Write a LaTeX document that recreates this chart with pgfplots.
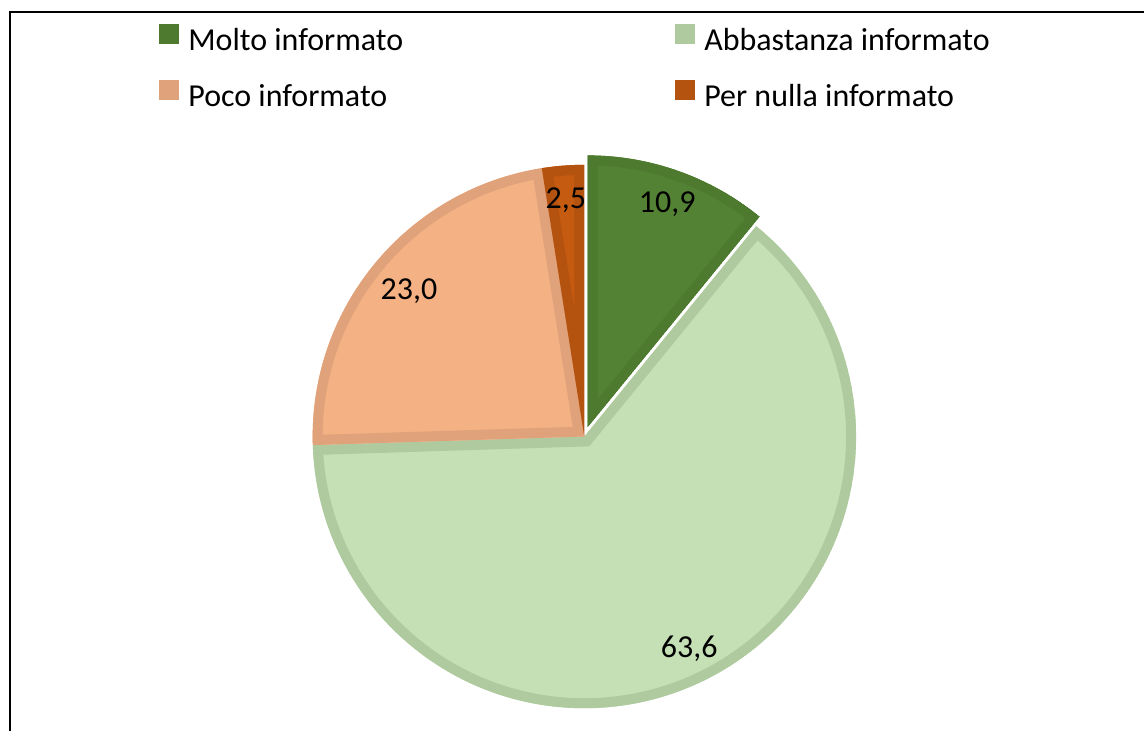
\documentclass[border=0pt]{standalone}
\usepackage{pgfplots}
\usepackage{pgfplotstable}
\pgfplotsset{compat=1.18}
\usepackage{fontspec}
\setmainfont{Carlito}
\definecolor{mF}{HTML}{548235}\definecolor{mB}{HTML}{4E7A2F}
\definecolor{aF}{HTML}{C5E0B4}\definecolor{aB}{HTML}{AFCA9F}
\definecolor{pF}{HTML}{F4B183}\definecolor{pB}{HTML}{E0A27B}
\definecolor{nF}{HTML}{C55A11}\definecolor{nB}{HTML}{B4520F}

\pgfplotstableread{
name value
Molto 10.9
Abbastanza 63.6
Poco 23.0
Nulla 2.5
}\piedata

\begin{document}
\pgfplotstablegetelem{0}{value}\of\piedata \let\vA\pgfplotsretval
\pgfplotstablegetelem{1}{value}\of\piedata \let\vB\pgfplotsretval
\pgfplotstablegetelem{2}{value}\of\piedata \let\vC\pgfplotsretval
\pgfplotstablegetelem{3}{value}\of\piedata \let\vD\pgfplotsretval
\pgfmathsetmacro\sA{90}%
\pgfmathsetmacro\eA{\sA-3.6*\vA}%
\pgfmathsetmacro\eB{\eA-3.6*\vB}%
\pgfmathsetmacro\eC{\eB-3.6*\vC}%
\pgfmathsetmacro\eD{\eC-3.6*\vD}%
\pgfmathsetmacro\mA{(\sA+\eA)/2}%
\pgfmathsetmacro\mB{(\eA+\eB)/2}%
\pgfmathsetmacro\mC{(\eB+\eC)/2}%
\pgfmathsetmacro\mD{(\eC+\eD)/2}%
\pgfkeys{/pgf/number format/.cd, fixed, fixed zerofill, precision=1, use comma, assume math mode=true}%
\newcommand\slice[6]{% start, end, mid, explode, fill, border
  \path (axis cs:585,295) ++(#3:#4) coordinate (O);%
  \begin{scope}%
    \clip (O) -- ++(#1:272pt) arc[start angle=#1, end angle=#2, radius=272pt] -- cycle;%
    \fill[#5] (O) -- ++(#1:272pt) arc[start angle=#1, end angle=#2, radius=272pt] -- cycle;%
    \draw[#6, line width=20pt] (O) -- ++(#1:272pt) arc[start angle=#1, end angle=#2, radius=272pt] -- cycle;%
  \end{scope}%
}%
\begin{tikzpicture}[font=\fontsize{32}{38}\selectfont]
\begin{axis}[
  width=1145pt, height=732pt, scale only axis,
  xmin=0, xmax=1145, ymin=0, ymax=732,
  hide axis, clip=false,
  legend columns=2,
  legend style={at={(axis cs:159,708)}, anchor=north west, draw=none, fill=none,
    font=\fontsize{32}{38}\selectfont, inner sep=0pt,
    row sep=26pt,
    /tikz/every even column/.append style={column sep=270pt}},
  legend cell align=left,
]
\path (axis cs:0,0) rectangle (axis cs:1145,732);
\addlegendimage{legend image code/.code={\fill[mB] (0pt,-3pt) rectangle (19pt,16pt); \path (27pt,0pt);}}
\addlegendentry{Molto informato}
\addlegendimage{legend image code/.code={\fill[aB] (0pt,-3pt) rectangle (19pt,16pt); \path (27pt,0pt);}}
\addlegendentry{Abbastanza informato}
\addlegendimage{legend image code/.code={\fill[pB] (0pt,-3pt) rectangle (19pt,16pt); \path (27pt,0pt);}}
\addlegendentry{Poco informato}
\addlegendimage{legend image code/.code={\fill[nB] (0pt,-3pt) rectangle (19pt,16pt); \path (27pt,0pt);}}
\addlegendentry{Per nulla informato}

\slice{\sA}{\eA}{\mA}{10pt}{mF}{mB}
\path (O) ++(\mA:237pt) node {\pgfmathprintnumber{\vA}};
\slice{\eA}{\eB}{\mB}{0pt}{aF}{aB}
\path (O) ++(\mB:237pt) node {\pgfmathprintnumber{\vB}};
\slice{\eB}{\eC}{\mC}{0pt}{pF}{pB}
\path (O) ++(\mC:228pt) node {\pgfmathprintnumber{\vC}};
\slice{\eC}{\eD}{\mD}{0pt}{nF}{nB}
\path (O) ++(\mD:237pt) node {\pgfmathprintnumber{\vD}};

\draw[line width=2.5pt] (axis cs:10,0) -- (axis cs:10,720) -- (axis cs:1145,720);
\end{axis}
\end{tikzpicture}
\end{document}
